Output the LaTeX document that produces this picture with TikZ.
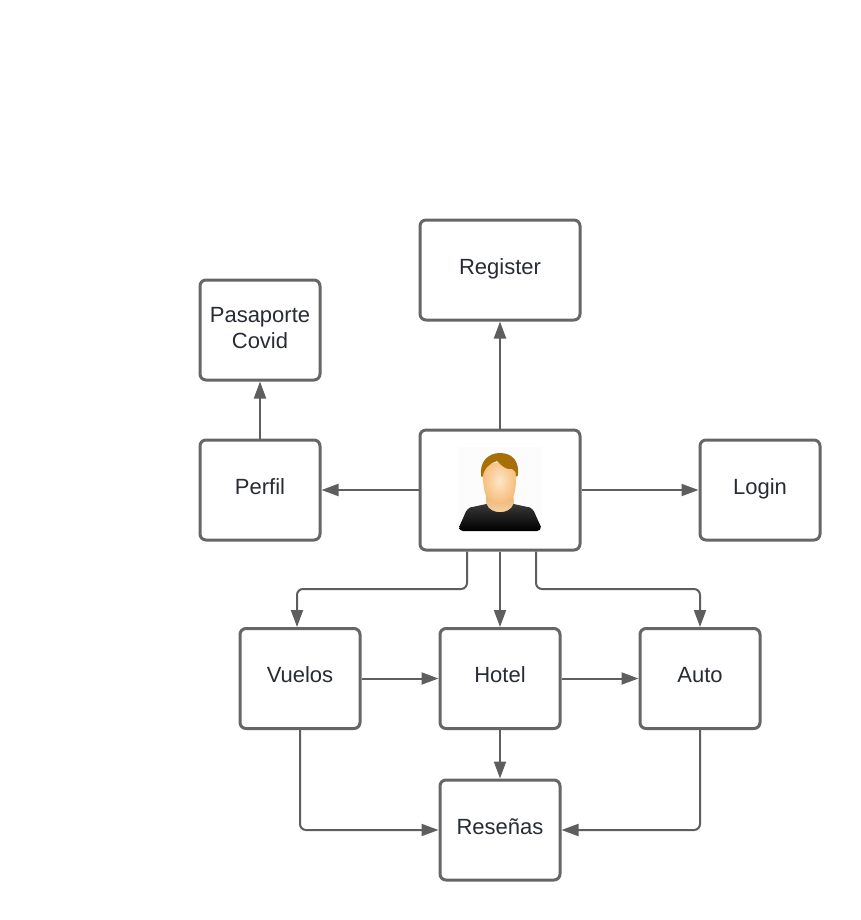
\documentclass[tikz,border=0pt]{standalone}
\usepackage{fontspec}
\setmainfont{Liberation Sans}
\usetikzlibrary{arrows.meta}
\definecolor{edgegray}{HTML}{5E5E5E}
\definecolor{boxgray}{HTML}{666666}
\definecolor{labeltext}{HTML}{282C33}
\definecolor{hairc}{HTML}{A66F08}
\definecolor{facedark}{HTML}{F6BE7C}
\definecolor{facelight}{HTML}{FDE6C8}
\newcommand{\lift}[1]{\raisebox{7.2pt}{#1}}
\tikzset{
  box/.style={draw=boxgray,line width=3pt,rounded corners=6pt,fill=white,
    minimum width=120pt,minimum height=100pt,inner sep=0pt,align=center,
    text=labeltext,font=\fontsize{22pt}{26pt}\selectfont},
  wide/.style={minimum width=160pt},
  conn/.style={draw=edgegray,line width=2pt,rounded corners=6pt,
    -{Triangle[length=17pt,width=12pt]},shorten >=0pt}
}
\begin{document}
\begin{tikzpicture}[x=1pt,y=-1pt]
\useasboundingbox (0,0) rectangle (860,920);
\fill[white] (0,0) rectangle (860,920);
\node[box,wide] (register) at (500,270) {\lift{Register}};
\node[box] (pasaporte) at (260,330) {\raisebox{3.8pt}{\begin{tabular}{@{}c@{}}Pasaporte\\Covid\end{tabular}}};
\node[box] (perfil) at (260,490) {\lift{Perfil}};
\node[box,wide,minimum height=120pt] (user) at (500,490) {};
\node[box] (login) at (760,490) {\lift{Login}};
\node[box] (vuelos) at (300,678.5) {\lift{Vuelos}};
\node[box] (hotel) at (500,678.5) {\lift{Hotel}};
\node[box] (auto) at (700,678.5) {\lift{Auto}};
\node[box] (resenas) at (500,830) {\lift{Reseñas}};

\draw[conn] (user) -- (register);
\draw[conn] (user) -- (perfil);
\draw[conn] (user) -- (login);
\draw[conn] (perfil) -- (pasaporte);
\draw[conn] (user) -- (hotel);
\draw[conn] ([xshift=-33pt]user.south) -- ++(0,37.5) -| ([xshift=-3pt]vuelos.north);
\draw[conn] ([xshift=36pt]user.south) -- ++(0,37.5) -| (auto.north);
\draw[conn] (vuelos) -- (hotel);
\draw[conn] (hotel) -- (auto);
\draw[conn] (hotel) -- (resenas);
\draw[conn] (vuelos.south) |- (resenas.west);
\draw[conn] (auto.south) |- (resenas.east);

% user picture
\fill[black!1] (458,447) rectangle (542,532);
% neck
\shade[top color=facedark!92!black,bottom color=facelight!50!facedark]
  (487,493) -- (513,493) -- (514,503) .. controls (513,510) and (506,513) .. (500,513)
  .. controls (494,513) and (487,510) .. (486,503) -- cycle;
% body
\shade[top color=black!78,bottom color=black]
  (486.5,504) .. controls (490,515) and (510,515) .. (513.5,504)
  -- (530,507.5) .. controls (534,510) and (535,513) .. (536,516)
  -- (540.8,526.5) .. controls (541,529) and (540,531) .. (537,531)
  -- (463,531) .. controls (460,531) and (459,529) .. (459.3,526.5)
  -- (464,516) .. controls (465,513) and (466,510) .. (470,507.5) -- cycle;
% face
\shade[inner color=facelight,outer color=facedark]
  (482.6,475) .. controls (483,458) and (516,458) .. (516,475)
  .. controls (516,486) and (515.5,492) .. (513,497)
  .. controls (510,501) and (504,503.5) .. (500,503.5)
  .. controls (496,503.5) and (489,501) .. (486,496)
  .. controls (484,491) and (483,482) .. (482.6,475) -- cycle;
% hair
\fill[hairc]
  (481.2,476.5) .. controls (479,462) and (488,453) .. (500,453)
  .. controls (512,453) and (520,461) .. (517.7,476)
  -- (516,476.5) .. controls (516,472) and (515,470) .. (512,469)
  .. controls (506,470) and (502,466) .. (497,461)
  .. controls (490,463) and (484,468) .. (482.8,476.5) -- cycle;
\end{tikzpicture}
\end{document}
